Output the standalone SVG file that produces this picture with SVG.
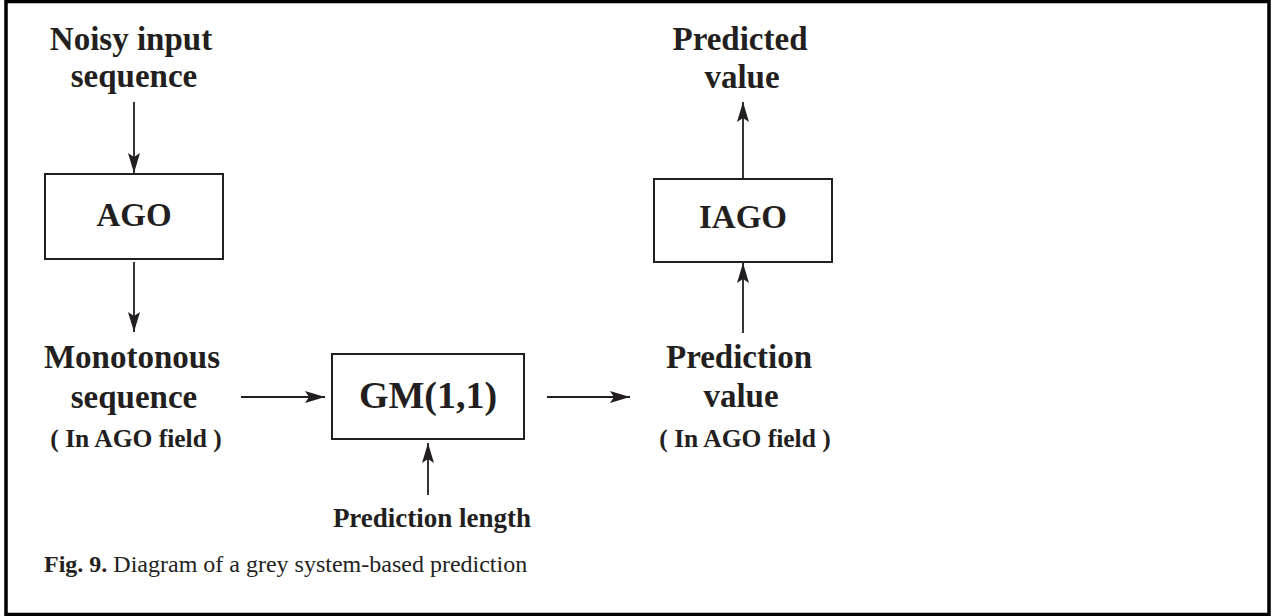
<svg xmlns="http://www.w3.org/2000/svg" width="1272" height="616" viewBox="0 0 1272 616">
<style>
.big{font-family:"Liberation Serif","Times New Roman",serif;font-weight:bold;font-size:33px;fill:#231f20;text-anchor:middle}
.sm{font-family:"Liberation Serif","Times New Roman",serif;font-weight:bold;font-size:25.5px;fill:#231f20;text-anchor:middle}
.box{fill:#fff;stroke:#231f20;stroke-width:2}
.conn line{stroke:#231f20;stroke-width:1.8}
.cap{font-family:"Liberation Serif","Times New Roman",serif;font-size:24px;fill:#231f20}
</style>
<defs>
<marker id="ah" viewBox="0 0 20 12" refX="20" refY="6" markerWidth="20" markerHeight="12" markerUnits="userSpaceOnUse" orient="auto">
<path d="M0,0 L20,6 L0,12 L4,6 Z" fill="#231f20"/>
</marker>
</defs>
<rect x="0" y="0" width="1272" height="616" fill="#fff"/>
<rect x="6" y="1.5" width="1263" height="613" fill="none" stroke="#000" stroke-width="3.5"/>

<g id="noisy-input">
<text class="big" x="131" y="50">Noisy input</text>
<text class="big" x="134" y="87">sequence</text>
</g>
<g id="ago">
<rect class="box" x="45" y="174" width="178" height="85"/>
<text class="big" x="134" y="226">AGO</text>
</g>
<g id="monotonous">
<text class="big" x="132" y="368">Monotonous</text>
<text class="big" x="134" y="408">sequence</text>
<text class="sm" x="136" y="447">( In AGO field )</text>
</g>
<g id="gm11">
<rect class="box" x="332" y="354" width="192" height="85"/>
<text class="big" x="428" y="408" style="font-size:38px">GM(1,1)</text>
</g>
<g id="prediction-length">
<text class="sm" x="432" y="527" style="font-size:27px">Prediction length</text>
</g>
<g id="prediction-value">
<text class="big" x="739" y="368">Prediction</text>
<text class="big" x="741" y="407">value</text>
<text class="sm" x="745" y="447">( In AGO field )</text>
</g>
<g id="iago">
<rect class="box" x="654" y="179" width="178" height="83"/>
<text class="big" x="743" y="228">IAGO</text>
</g>
<g id="predicted-value">
<text class="big" x="740" y="50">Predicted</text>
<text class="big" x="742" y="88">value</text>
</g>
<g id="caption">
<text class="cap" x="44" y="572"><tspan font-weight="bold">Fig. 9.</tspan> Diagram of a grey system-based prediction</text>
</g>

<g id="connectors" class="conn">
<line x1="134" y1="102" x2="134" y2="173" marker-end="url(#ah)"/>
<line x1="134" y1="262" x2="134" y2="332" marker-end="url(#ah)"/>
<line x1="241" y1="397" x2="325" y2="397" marker-end="url(#ah)"/>
<line x1="547" y1="397" x2="630" y2="397" marker-end="url(#ah)"/>
<line x1="428" y1="495" x2="428" y2="443" marker-end="url(#ah)"/>
<line x1="743" y1="333" x2="743" y2="263" marker-end="url(#ah)"/>
<line x1="743" y1="178" x2="743" y2="102" marker-end="url(#ah)"/>
</g>
</svg>
